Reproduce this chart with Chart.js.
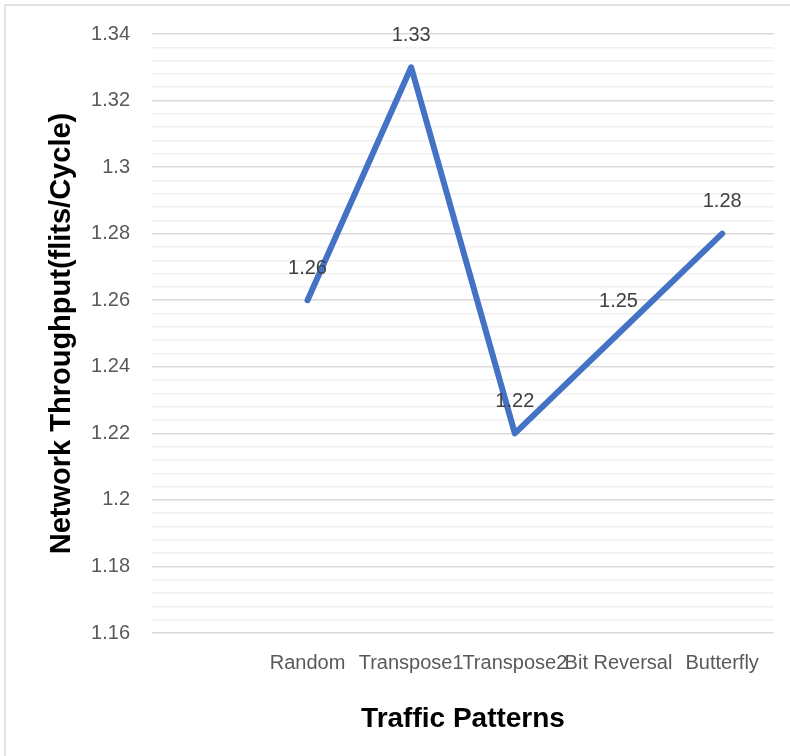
<!DOCTYPE html>
<html>
<head>
<meta charset="utf-8">
<title>Network Throughput by Traffic Pattern</title>
<script src="https://cdn.jsdelivr.net/npm/chart.js@4/dist/chart.umd.min.js"></script>
<style>
  html, body { margin: 0; padding: 0; background: #ffffff; }
  canvas { display: block; }
</style>
</head>
<body>
<canvas id="chart" width="790" height="756"></canvas>
<script>
// Categories along the x axis (the first slot is left empty on purpose)
const categories = ["", "Random", "Transpose1", "Transpose2", "Bit Reversal", "Butterfly"];
// Network throughput in flits per cycle for each traffic pattern
const throughput = [null, 1.26, 1.33, 1.22, 1.25, 1.28];
// Y-axis range and tick spacing
const yMin = 1.16;
const yMax = 1.34;
const yMajorStep = 0.02;
const yMinorStep = 0.004;

const FONT = "'Liberation Sans', Arial, sans-serif";

function isMajor(v) {
  const m = Math.round(v * 1000);
  const s = Math.round(yMajorStep * 1000);
  return m % s === 0;
}

// Light frame along the top and left edge of the canvas
const framePlugin = {
  id: 'frame',
  beforeDraw(chart) {
    const ctx = chart.ctx;
    ctx.save();
    ctx.strokeStyle = '#d9d9d9';
    ctx.lineWidth = 1.5;
    ctx.beginPath();
    ctx.moveTo(5, chart.height + 10);
    ctx.lineTo(5, 5);
    ctx.lineTo(chart.width + 10, 5);
    ctx.stroke();
    ctx.restore();
  }
};

// Value labels above each point
const valueLabels = {
  id: 'valueLabels',
  afterDatasetsDraw(chart) {
    const ctx = chart.ctx;
    const meta = chart.getDatasetMeta(0);
    const data = chart.data.datasets[0].data;
    ctx.save();
    ctx.font = '20px ' + FONT;
    ctx.fillStyle = '#404040';
    ctx.textAlign = 'center';
    ctx.textBaseline = 'middle';
    meta.data.forEach((pt, i) => {
      const v = data[i];
      if (v === null || v === undefined) return;
      ctx.fillText(String(v), pt.x, pt.y - 32);
    });
    ctx.restore();
  }
};

new Chart(document.getElementById('chart'), {
  type: 'line',
  data: {
    labels: categories,
    datasets: [{
      data: throughput,
      borderColor: '#4472C4',
      backgroundColor: '#4472C4',
      borderWidth: 6,
      borderCapStyle: 'round',
      borderJoinStyle: 'round',
      pointRadius: 0,
      pointHoverRadius: 0,
      tension: 0,
      fill: false
    }]
  },
  options: {
    responsive: false,
    animation: false,
    events: [],
    layout: { padding: { top: 34, right: 16, bottom: 0, left: 0 } },
    plugins: {
      legend: { display: false },
      tooltip: { enabled: false }
    },
    scales: {
      x: {
        type: 'category',
        offset: true,
        grid: { display: false, drawTicks: false },
        border: { display: false },
        ticks: {
          autoSkip: false,
          maxRotation: 0,
          minRotation: 0,
          padding: 18,
          color: '#595959',
          font: { family: FONT, size: 20 }
        },
        title: {
          display: true,
          text: 'Traffic Patterns',
          color: '#000000',
          font: { family: FONT, size: 28, weight: 'bold' },
          padding: { top: 0, bottom: 20 }
        },
        afterFit(scale) { scale.height = 123; }
      },
      y: {
        min: yMin,
        max: yMax,
        grid: {
          drawTicks: false,
          color: (c) => isMajor(c.tick.value) ? '#d9d9d9' : '#f0f0f0',
          lineWidth: 1.5
        },
        border: { display: false },
        ticks: {
          stepSize: yMinorStep,
          autoSkip: false,
          maxTicksLimit: 200,
          padding: 22,
          color: '#595959',
          font: { family: FONT, size: 20 },
          callback: (v) => isMajor(v) ? String(Math.round(v * 100) / 100) : ''
        },
        title: {
          display: true,
          text: 'Network Throughput(flits/Cycle)',
          color: '#000000',
          font: { family: FONT, size: 29, weight: 'bold' },
          padding: { top: 45, bottom: 0 }
        },
        afterFit(scale) { scale.width = 152; }
      }
    }
  },
  plugins: [framePlugin, valueLabels]
});
</script>
</body>
</html>
